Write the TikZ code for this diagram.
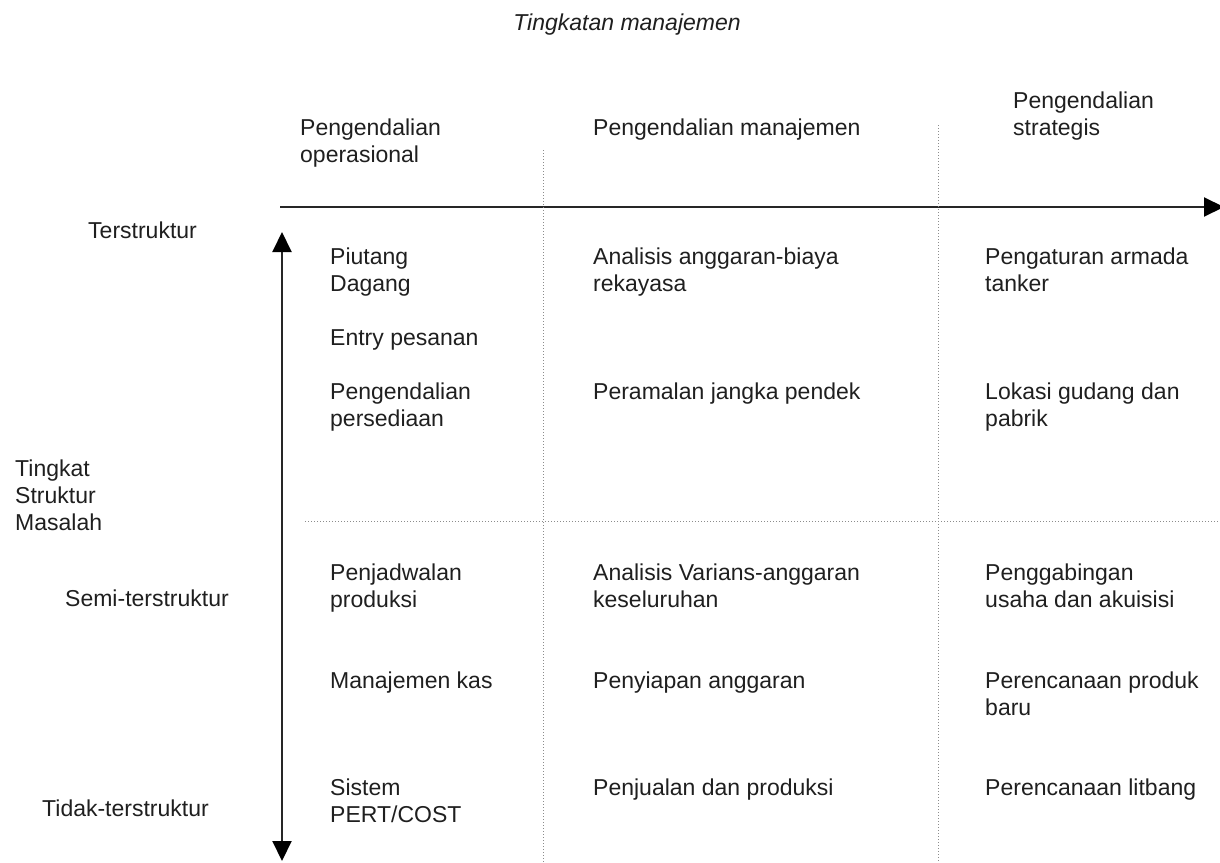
\documentclass[tikz,border=0pt]{standalone}
\usepackage{fontspec}
\setmainfont{Liberation Sans}
\usetikzlibrary{arrows.meta}
\begin{document}
\begin{tikzpicture}[x=1pt,y=-1pt,
  txt/.style={anchor=north west,inner sep=0pt,align=left,text=black!88,
    font=\fontsize{23}{27}\selectfont},
  axis/.style={line width=2pt,black!85,-{Triangle[length=20pt,width=19pt,color=black]}},
  grid/.style={line width=1pt,black!45,dash pattern=on 1pt off 2pt}]
\useasboundingbox (0,0) rectangle (1220,862);
% axes
\coordinate (hs) at (280,207);
\coordinate (he) at (1224,207);
\coordinate (vm) at (282,540);
\coordinate (vt) at (282,232);
\coordinate (vb) at (282,861);
\draw[axis] (hs) -- (he);
\draw[axis] (vm) -- (vt);
\draw[axis] (vm) -- (vb);
% dotted dividers
\coordinate (d1t) at (543,150);
\coordinate (d1b) at (543,862);
\coordinate (d2t) at (938,125);
\coordinate (d2b) at (938,862);
\coordinate (d3l) at (305,521);
\coordinate (d3r) at (1220,521);
\draw[grid] (d1t) -- (d1b);
\draw[grid] (d2t) -- (d2b);
\draw[grid] (d3l) -- (d3r);
% title and column headers
\node[txt,anchor=north,font=\fontsize{23}{27}\selectfont\itshape] (title) at (627,11) {\strut Tingkatan manajemen};
\node[txt] (h1) at (300,116) {\strut Pengendalian\\operasional};
\node[txt] (h2) at (593,116) {\strut Pengendalian manajemen};
\node[txt] (h3) at (1013,89) {\strut Pengendalian\\strategis};
% row labels
\node[txt] (r1) at (88,219) {\strut Terstruktur};
\node[txt] (r0) at (15,457) {\strut Tingkat\\Struktur\\Masalah};
\node[txt] (r2) at (65,587) {\strut Semi-terstruktur};
\node[txt] (r3) at (42,797) {\strut Tidak-terstruktur};
% column 1
\node[txt] (a1) at (330,245) {\strut Piutang\\Dagang};
\node[txt] (a2) at (330,326) {\strut Entry pesanan};
\node[txt] (a3) at (330,380) {\strut Pengendalian\\persediaan};
\node[txt] (a4) at (330,561) {\strut Penjadwalan\\produksi};
\node[txt] (a5) at (330,669) {\strut Manajemen kas};
\node[txt] (a6) at (330,776) {\strut Sistem\\PERT/COST};
% column 2
\node[txt] (b1) at (593,245) {\strut Analisis anggaran-biaya\\rekayasa};
\node[txt] (b2) at (593,380) {\strut Peramalan jangka pendek};
\node[txt] (b3) at (593,561) {\strut Analisis Varians-anggaran\\keseluruhan};
\node[txt] (b4) at (593,669) {\strut Penyiapan anggaran};
\node[txt] (b5) at (593,776) {\strut Penjualan dan produksi};
% column 3
\node[txt] (c1) at (985,245) {\strut Pengaturan armada\\tanker};
\node[txt] (c2) at (985,380) {\strut Lokasi gudang dan\\pabrik};
\node[txt] (c3) at (985,561) {\strut Penggabingan\\usaha dan akuisisi};
\node[txt] (c4) at (985,669) {\strut Perencanaan produk\\baru};
\node[txt] (c5) at (985,776) {\strut Perencanaan litbang};
\end{tikzpicture}
\end{document}
